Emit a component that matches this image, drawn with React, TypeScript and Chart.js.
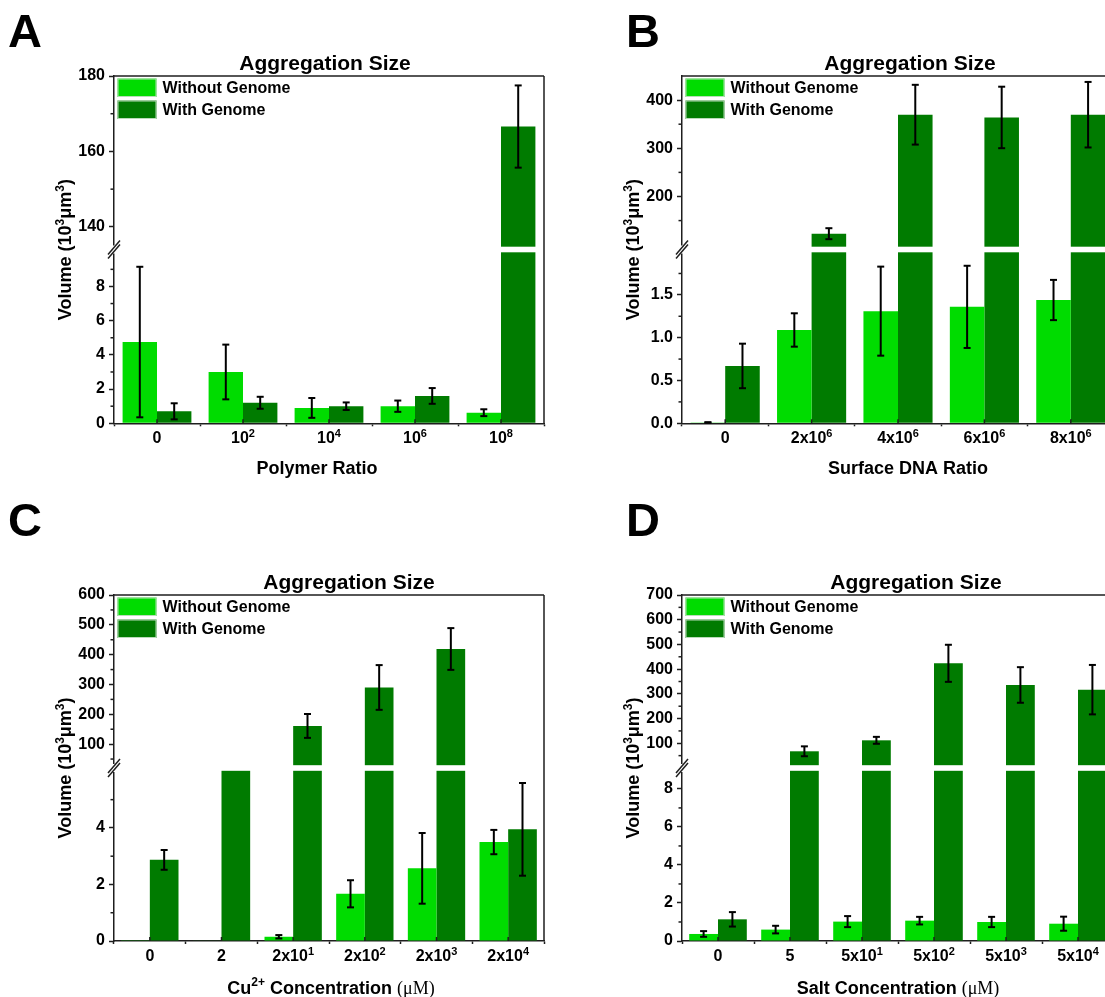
import React, { useEffect, useRef } from "react";
import { Chart, registerables } from "chart.js";

Chart.register(...registerables);

const LIGHT = "#00DC00";
const DARK = "#007B00";
const AXIS = "#1e1e1e";
const SANS = '"Liberation Sans", Arial, Helvetica, sans-serif';
const SERIF = '"Liberation Serif", "Times New Roman", serif';

const SERIES_LABELS = ["Without Genome", "With Genome"];
const PLOT_TITLE = "Aggregation Size";
const Y_TITLE = "Volume (10³μm³)";

// ---- Panel A ----
const A_CATEGORIES = ["0", "10²", "10⁴", "10⁶", "10⁸"];
const A_WITHOUT = [4.75, 3.0, 0.9, 1.0, 0.62];
const A_WITHOUT_ERR = [4.4, 1.6, 0.58, 0.33, 0.2];
const A_WITH = [0.7, 1.2, 1.0, 1.6, 166.6];
const A_WITH_ERR = [0.47, 0.35, 0.22, 0.46, 10.9];
const A_LOW_TICKS = [0, 2, 4, 6, 8];
const A_LOW_MINOR = [1, 3, 5, 7, 9];
const A_HIGH_TICKS = [140, 160, 180];
const A_HIGH_MINOR = [150, 170];
const A_LOW_RANGE = [0, 10.16];
const A_HIGH_RANGE = [134, 180];
const A_X_TITLE = "Polymer Ratio";

// ---- Panel B ----
const B_CATEGORIES = ["0", "2x10⁶", "4x10⁶", "6x10⁶", "8x10⁶"];
const B_WITHOUT = [0.01, 1.09, 1.31, 1.36, 1.44];
const B_WITHOUT_ERR = [0.003, 0.195, 0.52, 0.48, 0.235];
const B_WITH = [0.67, 122.8, 369.7, 364, 369.7];
const B_WITH_ERR = [0.26, 11.4, 62, 63.8, 68];
const B_LOW_TICKS = [0, 0.5, 1, 1.5];
const B_LOW_MINOR = [0.25, 0.75, 1.25, 1.75];
const B_HIGH_TICKS = [200, 300, 400];
const B_HIGH_MINOR = [150, 250, 350];
const B_LOW_RANGE = [0, 2.03];
const B_HIGH_RANGE = [90, 450];
const B_X_TITLE = "Surface DNA Ratio";

// ---- Panel C ----
const C_CATEGORIES = ["0", "2", "2x10¹", "2x10²", "2x10³", "2x10⁴"];
const C_WITHOUT = [0.01, 0.02, 0.15, 1.67, 2.57, 3.5];
const C_WITHOUT_ERR = [null, null, 0.06, 0.48, 1.25, 0.43];
const C_WITH = [2.87, 15, 161, 290, 419, 3.95];
const C_WITH_ERR = [0.35, null, 40, 75, 70, 1.64];
const C_LOW_TICKS = [0, 2, 4];
const C_LOW_MINOR = [1, 3, 5];
const C_HIGH_TICKS = [100, 200, 300, 400, 500, 600];
const C_HIGH_MINOR = [50, 150, 250, 350, 450, 550];
const C_LOW_RANGE = [0, 6.12];
const C_HIGH_RANGE = [20, 600];
const C_X_TITLE = "Cu²⁺ Concentration (μM)";

// ---- Panel D ----
const D_CATEGORIES = ["0", "5", "5x10¹", "5x10²", "5x10³", "5x10⁴"];
const D_WITHOUT = [0.37, 0.6, 1.02, 1.07, 1.0, 0.91];
const D_WITHOUT_ERR = [0.15, 0.2, 0.29, 0.2, 0.27, 0.37];
const D_WITH = [1.14, 67.6, 112, 423.6, 336, 317];
const D_WITH_ERR = [0.38, 20, 14, 75, 72, 100];
const D_LOW_TICKS = [0, 2, 4, 6, 8];
const D_LOW_MINOR = [1, 3, 5, 7];
const D_HIGH_TICKS = [100, 200, 300, 400, 500, 600, 700];
const D_HIGH_MINOR = [50, 150, 250, 350, 450, 550, 650];
const D_LOW_RANGE = [0, 9.1];
const D_HIGH_RANGE = [0, 700];
const D_X_TITLE = "Salt Concentration (μM)";

type Area = { left: number; right: number; top: number; bottom: number; brk: number };
type PanelSpec = {
  letter: string;
  cats: string[];
  without: number[];
  withoutErr: (number | null)[];
  withV: number[];
  withErr: (number | null)[];
  lowRange: number[];
  highRange: number[];
  lowTicks: number[];
  lowMinor: number[];
  highTicks: number[];
  highMinor: number[];
  lowDecimals: number;
  xTitle: string;
  // layout
  px: number;
  py: number;
  w: number;
  h: number;
  area: Area;
  letterX: number;
  letterY: number;
  titleDX: number;
  xTitleDX: number;
  xTitleDY: number;
};

const PANELS: PanelSpec[] = [
  {
    letter: "A", cats: A_CATEGORIES, without: A_WITHOUT, withoutErr: A_WITHOUT_ERR, withV: A_WITH, withErr: A_WITH_ERR,
    lowRange: A_LOW_RANGE, highRange: A_HIGH_RANGE, lowTicks: A_LOW_TICKS, lowMinor: A_LOW_MINOR,
    highTicks: A_HIGH_TICKS, highMinor: A_HIGH_MINOR, lowDecimals: 0, xTitle: A_X_TITLE,
    px: 0, py: 0, w: 560, h: 500, area: { left: 114, right: 544, top: 76, bottom: 423.3, brk: 249.5 },
    letterX: 8, letterY: 47, titleDX: -4, xTitleDX: -12, xTitleDY: 50.5,
  },
  {
    letter: "B", cats: B_CATEGORIES, without: B_WITHOUT, withoutErr: B_WITHOUT_ERR, withV: B_WITH, withErr: B_WITH_ERR,
    lowRange: B_LOW_RANGE, highRange: B_HIGH_RANGE, lowTicks: B_LOW_TICKS, lowMinor: B_LOW_MINOR,
    highTicks: B_HIGH_TICKS, highMinor: B_HIGH_MINOR, lowDecimals: 1, xTitle: B_X_TITLE,
    px: 560, py: 0, w: 560, h: 500, area: { left: 122, right: 554, top: 76, bottom: 423.3, brk: 249.5 },
    letterX: 66, letterY: 47, titleDX: 12, xTitleDX: 10, xTitleDY: 50.5,
  },
  {
    letter: "C", cats: C_CATEGORIES, without: C_WITHOUT, withoutErr: C_WITHOUT_ERR, withV: C_WITH, withErr: C_WITH_ERR,
    lowRange: C_LOW_RANGE, highRange: C_HIGH_RANGE, lowTicks: C_LOW_TICKS, lowMinor: C_LOW_MINOR,
    highTicks: C_HIGH_TICKS, highMinor: C_HIGH_MINOR, lowDecimals: 0, xTitle: C_X_TITLE,
    px: 0, py: 500, w: 560, h: 497, area: { left: 114, right: 544, top: 95, bottom: 441, brk: 268 },
    letterX: 8, letterY: 36, titleDX: 20, xTitleDX: 2, xTitleDY: 52.5,
  },
  {
    letter: "D", cats: D_CATEGORIES, without: D_WITHOUT, withoutErr: D_WITHOUT_ERR, withV: D_WITH, withErr: D_WITH_ERR,
    lowRange: D_LOW_RANGE, highRange: D_HIGH_RANGE, lowTicks: D_LOW_TICKS, lowMinor: D_LOW_MINOR,
    highTicks: D_HIGH_TICKS, highMinor: D_HIGH_MINOR, lowDecimals: 0, xTitle: D_X_TITLE,
    px: 560, py: 500, w: 560, h: 497, area: { left: 122, right: 554, top: 95, bottom: 441, brk: 268 },
    letterX: 66, letterY: 36, titleDX: 18, xTitleDX: 0, xTitleDY: 52.5,
  },
];

const SUP_MAP: Record<string, string> = {
  "⁰": "0", "¹": "1", "²": "2", "³": "3", "⁴": "4", "⁵": "5", "⁶": "6", "⁷": "7", "⁸": "8", "⁹": "9", "⁺": "+",
};
type Run = { t: string; sup: boolean; serif: boolean };
function toRuns(s: string): Run[] {
  const runs: Run[] = [];
  const serifIdx = s.indexOf("(μM)");
  for (let k = 0; k < s.length; k++) {
    const ch = s[k];
    const sup = ch in SUP_MAP;
    const serif = serifIdx >= 0 && k >= serifIdx;
    const t = sup ? SUP_MAP[ch] : ch;
    const last = runs[runs.length - 1];
    if (last && last.sup === sup && last.serif === serif) last.t += t;
    else runs.push({ t, sup, serif });
  }
  return runs;
}
function drawRich(ctx: CanvasRenderingContext2D, text: string, x: number, y: number, size: number, align: string) {
  const runs = toRuns(text);
  const fontOf = (r: Run) =>
    r.serif ? `${size}px ${SERIF}` : `bold ${r.sup ? Math.round(size * 0.68) : size}px ${SANS}`;
  let total = 0;
  const widths = runs.map((r) => {
    ctx.font = fontOf(r);
    const w = ctx.measureText(r.t).width;
    total += w;
    return w;
  });
  let cx = align === "center" ? x - total / 2 : align === "right" ? x - total : x;
  ctx.textAlign = "left";
  ctx.textBaseline = "alphabetic";
  runs.forEach((r, i) => {
    ctx.font = fontOf(r);
    ctx.fillText(r.t, cx, r.sup ? y - size * 0.4 : y);
    cx += widths[i];
  });
}

function makePlugin(p: PanelSpec) {
  return {
    id: "decor" + p.letter,
    afterDraw(chart: any) {
      const ctx = chart.ctx as CanvasRenderingContext2D;
      const a = chart.chartArea;
      const xs = chart.scales.x;
      const lo = chart.scales.yLow;
      const hi = chart.scales.yHigh;
      const P = hi.bottom;
      const line = (x1: number, y1: number, x2: number, y2: number) => {
        ctx.beginPath();
        ctx.moveTo(x1, y1);
        ctx.lineTo(x2, y2);
        ctx.stroke();
      };
      ctx.save();
      // break gap through the bars
      ctx.fillStyle = "#fff";
      ctx.fillRect(a.left + 1, P - 2.8, a.right - a.left - 2, 5.6);

      // inward ticks at category centres
      ctx.strokeStyle = AXIS;
      ctx.lineWidth = 1.5;
      p.cats.forEach((_, i) => {
        const cx = xs.getPixelForValue(i);
        line(cx, a.bottom, cx, a.bottom - 4);
      });

      // error bars
      const series = [
        { vals: p.without, errs: p.withoutErr, meta: 0 },
        { vals: p.withV, errs: p.withErr, meta: 2 },
      ];
      ctx.strokeStyle = "#000";
      ctx.lineWidth = 2;
      for (const s of series) {
        const meta = chart.getDatasetMeta(s.meta);
        s.vals.forEach((v, i) => {
          const e = s.errs[i];
          if (e === null || e === undefined) return;
          const scale = v <= p.lowRange[1] ? lo : v >= p.highRange[0] ? hi : null;
          if (!scale) return;
          const cx = meta.data[i].x;
          const yt = scale.getPixelForValue(Math.min(v + e, scale.max));
          const yb = scale.getPixelForValue(Math.max(v - e, scale.min));
          line(cx, yt, cx, yb);
          line(cx - 3.5, yt, cx + 3.5, yt);
          line(cx - 3.5, yb, cx + 3.5, yb);
        });
      }

      // frame top & right
      ctx.strokeStyle = AXIS;
      ctx.lineWidth = 1.5;
      line(a.left, a.top, a.right, a.top);
      line(a.right, a.top, a.right, a.bottom);

      // minor ticks
      p.lowMinor.forEach((v) => {
        const y = lo.getPixelForValue(v);
        line(a.left - 3.5, y, a.left, y);
      });
      p.highMinor.forEach((v) => {
        if (v < p.highRange[0]) return;
        const y = hi.getPixelForValue(v);
        line(a.left - 3.5, y, a.left, y);
      });

      // axis break mark
      ctx.fillStyle = "#fff";
      ctx.fillRect(a.left - 2.5, P - 4, 5, 8);
      ctx.strokeStyle = AXIS;
      ctx.lineWidth = 1.5;
      line(a.left - 6, P + 5, a.left + 6, P - 9);
      line(a.left - 6, P + 9, a.left + 6, P - 5);

      // legend
      const bx = a.left + 3.5;
      const by = a.top + 2.5;
      [LIGHT, DARK].forEach((c, k) => {
        const y0 = by + k * 22;
        ctx.fillStyle = c;
        ctx.fillRect(bx, y0, 39, 18.5);
        ctx.strokeStyle = "#b9dcb9";
        ctx.lineWidth = 1;
        ctx.strokeRect(bx + 0.5, y0 + 0.5, 38, 17.5);
        ctx.fillStyle = "#000";
        ctx.font = `bold 16px ${SANS}`;
        ctx.textAlign = "left";
        ctx.textBaseline = "middle";
        ctx.fillText(SERIES_LABELS[k], bx + 45, y0 + 10);
      });

      ctx.fillStyle = "#000";
      // x tick labels
      p.cats.forEach((c, i) => {
        drawRich(ctx, c, xs.getPixelForValue(i), a.bottom + 20, 16, "center");
      });
      // title
      ctx.font = `bold 21px ${SANS}`;
      ctx.textAlign = "center";
      ctx.textBaseline = "alphabetic";
      ctx.fillText(PLOT_TITLE, (a.left + a.right) / 2 + p.titleDX, a.top - 6);
      // x title
      drawRich(ctx, p.xTitle, (a.left + a.right) / 2 + p.xTitleDX, a.bottom + p.xTitleDY, 18, "center");
      // y title
      ctx.save();
      ctx.translate(a.left - 43, (a.top + a.bottom) / 2);
      ctx.rotate(-Math.PI / 2);
      drawRich(ctx, Y_TITLE, 0, 0, 18, "center");
      ctx.restore();
      // panel letter
      ctx.font = `bold 47px ${SANS}`;
      ctx.textAlign = "left";
      ctx.textBaseline = "alphabetic";
      ctx.fillText(p.letter, p.letterX, p.letterY);
      ctx.restore();
    },
  };
}

function buildConfig(p: PanelSpec): any {
  const a = p.area;
  const lowMax = p.lowRange[1];
  const highMin = p.highRange[0];
  const tickFont = { family: SANS, size: 16, weight: "bold" as const };
  const yCommon = (ticksArr: number[], decimals: number) => ({
    type: "linear",
    position: "left",
    stack: "v",
    afterBuildTicks: (s: any) => {
      s.ticks = ticksArr.map((v) => ({ value: v }));
    },
    afterFit: (s: any) => {
      s.width = a.left;
    },
    ticks: {
      font: tickFont,
      color: "#000",
      padding: 4,
      autoSkip: false,
      includeBounds: false,
      callback: (v: number) => Number(v).toFixed(decimals),
    },
    grid: { drawOnChartArea: false, tickLength: 5, tickWidth: 1.5, tickColor: AXIS },
    border: { display: true, color: AXIS, width: 1.5 },
  });
  return {
    type: "bar",
    data: {
      labels: p.cats,
      datasets: [
        {
          label: SERIES_LABELS[0],
          data: p.without.map((v) => Math.min(v, lowMax)),
          yAxisID: "yLow",
          stack: "wo",
          backgroundColor: LIGHT,
        },
        {
          label: SERIES_LABELS[0] + " (upper)",
          data: p.without.map((v) => (v >= highMin ? v : null)),
          yAxisID: "yHigh",
          stack: "wo",
          base: highMin,
          backgroundColor: LIGHT,
        },
        {
          label: SERIES_LABELS[1],
          data: p.withV.map((v) => Math.min(v, lowMax)),
          yAxisID: "yLow",
          stack: "w",
          backgroundColor: DARK,
        },
        {
          label: SERIES_LABELS[1] + " (upper)",
          data: p.withV.map((v) => (v >= highMin ? v : null)),
          yAxisID: "yHigh",
          stack: "w",
          base: highMin,
          backgroundColor: DARK,
        },
      ],
    },
    options: {
      animation: false,
      responsive: false,
      maintainAspectRatio: false,
      devicePixelRatio: 1,
      layout: { padding: { left: 0, right: p.w - a.right, top: a.top, bottom: 0 } },
      datasets: { bar: { categoryPercentage: 0.8, barPercentage: 1 } },
      plugins: { legend: { display: false }, title: { display: false }, tooltip: { enabled: false } },
      scales: {
        x: {
          type: "category",
          offset: true,
          afterFit: (s: any) => {
            s.height = p.h - a.bottom;
          },
          ticks: { display: false },
          grid: { drawOnChartArea: false, offset: true, tickLength: 3, tickWidth: 1.5, tickColor: AXIS },
          border: { display: true, color: AXIS, width: 1.5 },
        },
        yLow: {
          ...yCommon(p.lowTicks, p.lowDecimals),
          min: p.lowRange[0],
          max: p.lowRange[1],
          weight: 0,
          stackWeight: a.bottom - a.brk,
        },
        yHigh: {
          ...yCommon(p.highTicks, 0),
          min: p.highRange[0],
          max: p.highRange[1],
          weight: 1,
          stackWeight: a.brk - a.top,
        },
      },
    },
    plugins: [makePlugin(p)],
  };
}

function Panel({ spec }: { spec: PanelSpec }) {
  const ref = useRef<HTMLCanvasElement>(null);
  useEffect(() => {
    if (!ref.current) return;
    const chart = new Chart(ref.current, buildConfig(spec));
    return () => chart.destroy();
  }, [spec]);
  return (
    <canvas
      ref={ref}
      width={spec.w}
      height={spec.h}
      style={{ position: "absolute", left: spec.px, top: spec.py, width: spec.w, height: spec.h }}
    />
  );
}

export default function App() {
  return (
    <div
      style={{
        position: "fixed",
        left: 0,
        top: 0,
        width: 1105,
        height: 997,
        overflow: "hidden",
        background: "#fff",
      }}
    >
      {PANELS.map((p) => (
        <Panel key={p.letter} spec={p} />
      ))}
    </div>
  );
}
